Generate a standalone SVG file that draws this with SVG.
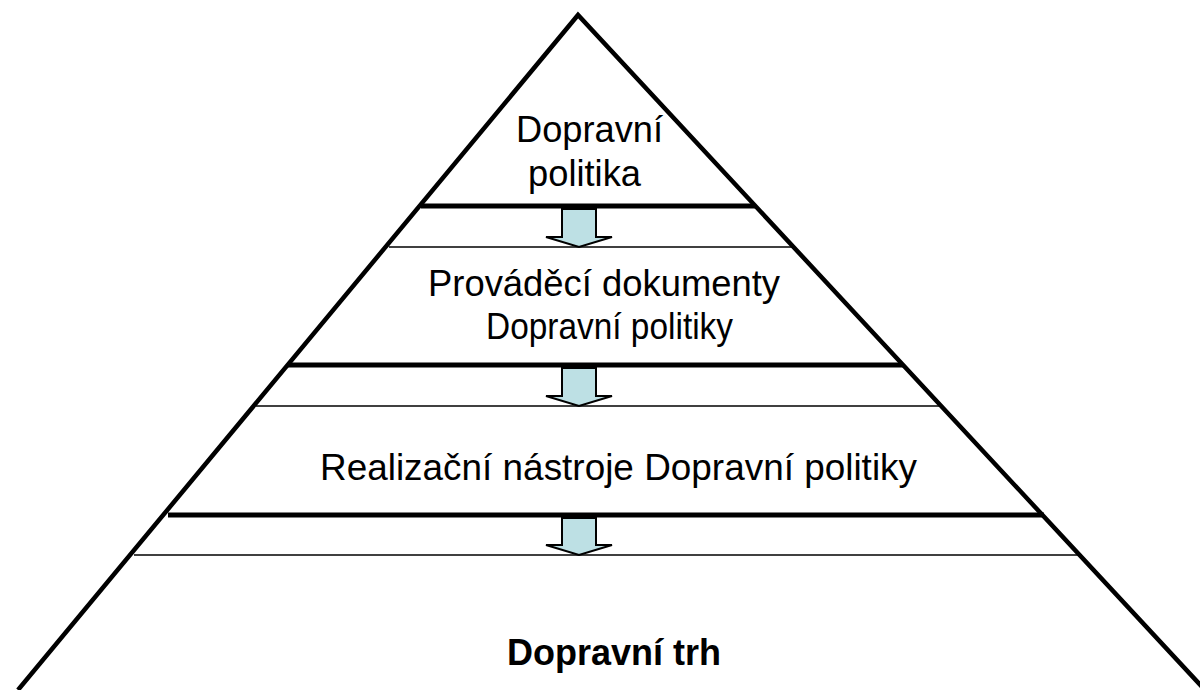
<svg xmlns="http://www.w3.org/2000/svg" width="1200" height="690" viewBox="0 0 1200 690">
<style>
.edge{fill:none;stroke:#000;stroke-width:4.5}
.bar{stroke:#000;stroke-width:5}
.thin{stroke:#000;stroke-width:1.5}
.arrow{fill:#bde0e4;stroke:#000;stroke-width:2;stroke-linejoin:miter}
.t{font-family:"Liberation Sans",Arial,sans-serif;font-size:36.5px;fill:#000}
</style>
<rect width="1200" height="690" fill="#fff"/>
<g id="pyramid">
<polyline class="edge" points="18,690 578,15 1205,690"/>
</g>
<g id="level1">
<text class="t" x="516" y="142" textLength="147" lengthAdjust="spacingAndGlyphs">Dopravní</text>
<text class="t" x="528" y="186" textLength="113" lengthAdjust="spacingAndGlyphs">politika</text>
</g>
<g id="level2">
<text class="t" x="428" y="296" textLength="352" lengthAdjust="spacingAndGlyphs">Prováděcí dokumenty</text>
<text class="t" x="486" y="339" textLength="247" lengthAdjust="spacingAndGlyphs">Dopravní politiky</text>
</g>
<g id="level3">
<text class="t" x="320" y="480" textLength="597" lengthAdjust="spacingAndGlyphs">Realizační nástroje Dopravní politiky</text>
</g>
<g id="level4">
<text class="t" x="507" y="665" font-weight="bold" font-size="36" textLength="214" lengthAdjust="spacingAndGlyphs">Dopravní trh</text>
</g>
<g id="connectors">
<line class="bar" x1="421" y1="206" x2="755" y2="206"/>
<line class="thin" x1="389" y1="247" x2="792" y2="247"/>
<line class="bar" x1="288" y1="365" x2="903" y2="365"/>
<line class="thin" x1="256" y1="406" x2="942" y2="406"/>
<line class="bar" x1="168" y1="515" x2="1044" y2="515"/>
<line class="thin" x1="134" y1="555" x2="1082" y2="555"/>
<polygon class="arrow" points="562,209 596,209 596,237 612,237 579,247 546,237 562,237"/>
<polygon class="arrow" points="562,368 596,368 596,396 612,396 579,406 546,396 562,396"/>
<polygon class="arrow" points="562,518 596,518 596,545 612,545 579,555 546,545 562,545"/>
</g>
</svg>
